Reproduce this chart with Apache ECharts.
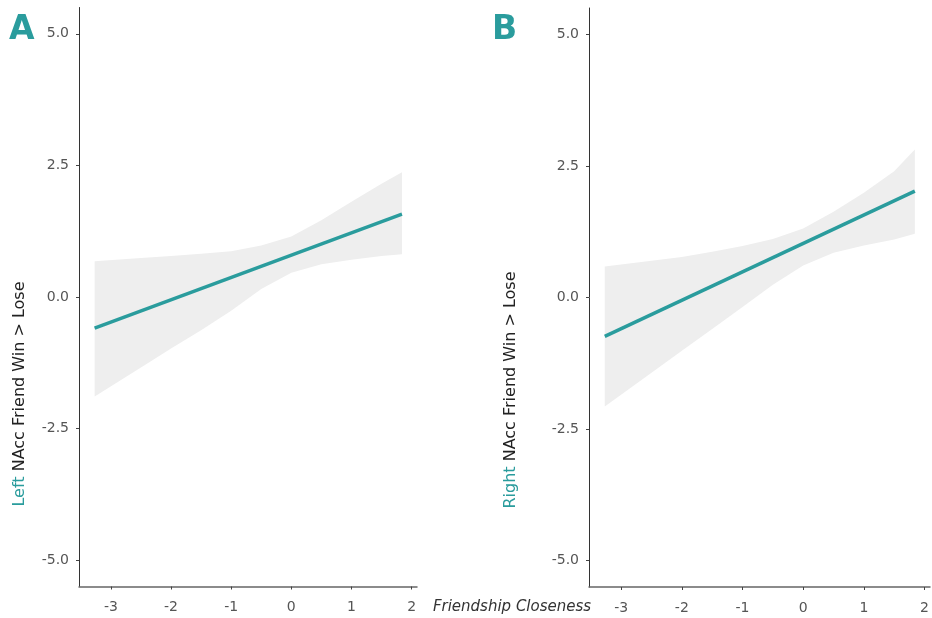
<!DOCTYPE html>
<html>
<head>
<meta charset="utf-8">
<script src="https://cdn.jsdelivr.net/npm/echarts@6/dist/echarts.min.js"></script>
<style>
html,body{margin:0;padding:0;background:#fff;}
#chart{width:932px;height:618px;}
</style>
</head>
<body>
<div id="chart"></div>
<script>
// ---- data ----
const xTicks = [-3, -2, -1, 0, 1, 2];
const yTicks = [-5, -2.5, 0, 2.5, 5];
const fitX = [-3.27, 1.84];
const leftFit = [-0.59, 1.575];
const rightFit = [-0.74, 2.02];
const bandX = [-3.27, -2.5, -2, -1.5, -1, -0.5, 0, 0.5, 1, 1.5, 1.84];
const leftLower = [-1.89, -1.34, -0.98, -0.63, -0.26, 0.15, 0.46, 0.62, 0.71, 0.78, 0.81];
const leftUpper = [0.68, 0.74, 0.78, 0.82, 0.87, 0.98, 1.15, 1.46, 1.81, 2.15, 2.37];
const rightLower = [-2.07, -1.43, -1.01, -0.60, -0.18, 0.24, 0.61, 0.85, 0.99, 1.10, 1.21];
const rightUpper = [0.59, 0.70, 0.77, 0.87, 0.98, 1.11, 1.31, 1.63, 1.99, 2.40, 2.81];

const TEAL = '#2a9c9d';
const BAND = '#eeeeee';
const FONT = 'DejaVu Sans';

function xAxisCfg(idx) {
  return {
    type: 'value', gridIndex: idx, min: -3.53, max: 2.09,
    axisLine: { onZero: false, lineStyle: { color: '#666', width: 1.5 } },
    axisTick: { show: true, length: 3, customValues: xTicks, lineStyle: { color: '#444' } },
    axisLabel: { customValues: xTicks, margin: 14, color: '#555', fontSize: 14, fontFamily: FONT,
      formatter: v => String(v) },
    splitLine: { show: false }
  };
}
function yAxisCfg(idx) {
  return {
    type: 'value', gridIndex: idx, min: -5.5, max: 5.5,
    axisLine: { show: true, onZero: false, lineStyle: { color: '#333', width: 1 } },
    axisTick: { show: true, length: 3, customValues: yTicks, lineStyle: { color: '#444' } },
    axisLabel: { customValues: yTicks, margin: 10, color: '#555', fontSize: 14, fontFamily: FONT,
      formatter: v => v.toFixed(1) },
    splitLine: { show: false }
  };
}
function bandSeries(idx, lower, upper) {
  return {
    type: 'custom', xAxisIndex: idx, yAxisIndex: idx, silent: true, z: 1,
    data: bandX.map((x, i) => [x, lower[i], upper[i]]),
    encode: { x: 0, y: [1, 2] },
    renderItem: function (params, api) {
      if (params.dataIndex !== 0) return null;
      const pts = [];
      for (let i = 0; i < bandX.length; i++) pts.push(api.coord([bandX[i], upper[i]]));
      for (let i = bandX.length - 1; i >= 0; i--) pts.push(api.coord([bandX[i], lower[i]]));
      return { type: 'polygon', shape: { points: pts }, style: { fill: BAND } };
    }
  };
}
function fitSeries(idx, ys) {
  return { type: 'line', xAxisIndex: idx, yAxisIndex: idx,
    data: fitX.map((x, i) => [x, ys[i]]), symbol: 'none',
    lineStyle: { color: TEAL, width: 3.5 }, z: 3, silent: true };
}

const chart = echarts.init(document.getElementById('chart'), null, { renderer: 'canvas' });
chart.setOption({
  animation: false,
  backgroundColor: '#fff',
  grid: [
    { left: 79, top: 7.5, width: 338, height: 579 },
    { left: 589, top: 8, width: 342, height: 579 }
  ],
  xAxis: [xAxisCfg(0), xAxisCfg(1)],
  yAxis: [yAxisCfg(0), yAxisCfg(1)],
  series: [
    bandSeries(0, leftLower, leftUpper),
    fitSeries(0, leftFit),
    bandSeries(1, rightLower, rightUpper),
    fitSeries(1, rightFit)
  ],
  graphic: [
    { type: 'text', x: 9, y: 30, style: { text: 'A', fill: TEAL, font: 'bold 33px ' + FONT, textVerticalAlign: 'middle' } },
    { type: 'text', x: 492, y: 30, style: { text: 'B', fill: TEAL, font: 'bold 33px ' + FONT, textVerticalAlign: 'middle' } },
    { type: 'text', x: 20, y: 394, rotation: Math.PI / 2,
      style: { text: '{a|Left} {b|NAcc Friend Win > Lose}', textAlign: 'center', textVerticalAlign: 'middle',
        font: '16px ' + FONT,
        rich: { a: { fill: TEAL, font: '16px ' + FONT }, b: { fill: '#222', font: '16px ' + FONT } } } },
    { type: 'text', x: 511, y: 390, rotation: Math.PI / 2,
      style: { text: '{a|Right} {b|NAcc Friend Win > Lose}', textAlign: 'center', textVerticalAlign: 'middle',
        font: '16px ' + FONT,
        rich: { a: { fill: TEAL, font: '16px ' + FONT }, b: { fill: '#222', font: '16px ' + FONT } } } },
    { type: 'text', x: 512, y: 607,
      style: { text: 'Friendship Closeness', fill: '#333', font: 'italic 15px ' + FONT,
        textAlign: 'center', textVerticalAlign: 'middle' } }
  ]
});
</script>
</body>
</html>
